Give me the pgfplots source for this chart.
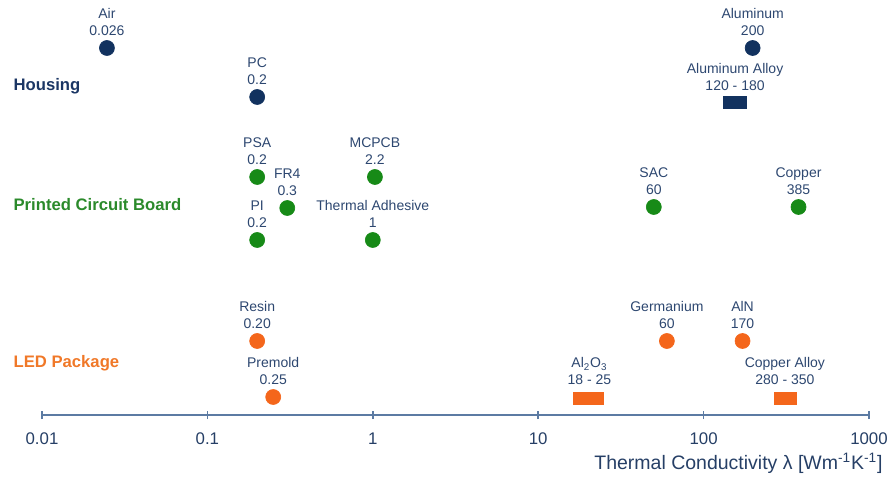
\documentclass[border=0pt]{standalone}
\usepackage{pgfplots}
\pgfplotsset{compat=1.18}
\usepackage{fontspec}
\setmainfont{Liberation Sans}
\definecolor{navyc}{HTML}{12325F}
\definecolor{greenc}{HTML}{178A17}
\definecolor{orangec}{HTML}{F4661B}
\definecolor{lblc}{HTML}{2D4770}
\definecolor{axc}{HTML}{5C7BA3}
\definecolor{tickc}{HTML}{263F66}
\definecolor{housc}{HTML}{1B3664}
\definecolor{pcbc}{HTML}{2B8A2B}
\definecolor{ledc}{HTML}{F07828}
\newcommand{\lab}[4]{\node[anchor=base, inner sep=0pt, text=lblc, font=\fontsize{8.4}{10.2}\selectfont] at (axis cs:#1,#2) {\begin{tabular}[b]{@{}c@{}}#3\\#4\end{tabular}};}
\begin{document}
\begin{tikzpicture}
\useasboundingbox (-25.2pt,-37.8pt) rectangle (511.2pt,249pt);
\begin{axis}[
  at={(0pt,0pt)}, anchor=south west,
  scale only axis, width=496.2pt, height=249pt,
  xmode=log, xmin=0.01, xmax=1000, ymin=0, ymax=415,
  axis y line=none, axis x line*=bottom,
  axis line style={draw=axc, line width=0.9pt, -},
  xtick={0.01,0.1,1,10,100,1000},
  xticklabels={0.01,0.1,1,10,100,1000},
  xminorticks=false,
  tick align=center, major tick length=5pt,
  every tick/.style={draw=axc, line width=0.9pt},
  xticklabel style={anchor=center, yshift=-12pt, font=\fontsize{10.1}{12}\selectfont, text=tickc},
  xlabel={Thermal Conductivity λ [Wm\textsuperscript{-1}K\textsuperscript{-1}]},
  xlabel style={at={(rel axis cs:1.0235,0)}, anchor=east, yshift=-28.8pt, font=\fontsize{11.7}{14}\selectfont, text=tickc},
  clip=false,
]
% Housing
\addplot[only marks, mark=*, mark size=4.5pt, mark options={fill=navyc, draw=navyc}] coordinates {(0.0247,367) (0.2,318) (198,367)};
\addplot[fill=navyc, draw=none] coordinates {(131,306) (182,306) (182,319) (131,319)};
% PCB
\addplot[only marks, mark=*, mark size=4.5pt, mark options={fill=greenc, draw=greenc}] coordinates {(0.2,238) (1.03,238) (0.304,207) (50,208) (375,208) (0.2,175) (1.0,175)};
% LED
\addplot[only marks, mark=*, mark size=4.5pt, mark options={fill=orangec, draw=orangec}] coordinates {(0.2,74) (0.25,18) (60,74) (172,74)};
\addplot[fill=orangec, draw=none] coordinates {(16.3,10) (25,10) (25,23) (16.3,23)};
\addplot[fill=orangec, draw=none] coordinates {(265,10) (365,10) (365,23) (265,23)};
% labels
\lab{0.0247}{379}{Air}{0.026}
\lab{198}{379}{Aluminum}{200}
\lab{0.2}{330}{PC}{0.2}
\lab{155}{324}{Aluminum Alloy}{120 - 180}
\lab{0.2}{250}{PSA}{0.2}
\lab{1.03}{250}{MCPCB}{2.2}
\lab{0.304}{219}{FR4}{0.3}
\lab{50}{220}{SAC}{60}
\lab{375}{220}{Copper}{385}
\lab{0.2}{187}{PI}{0.2}
\lab{1.0}{187}{Thermal Adhesive}{1}
\lab{0.2}{86}{Resin}{0.20}
\lab{0.25}{30}{Premold}{0.25}
\lab{60}{86}{Germanium}{60}
\lab{172}{86}{AlN}{170}
\lab{20.4}{30}{Al\textsubscript{2}O\textsubscript{3}}{18 - 25}
\lab{310}{30}{Copper Alloy}{280 - 350}
% group labels
\node[anchor=base west, inner sep=0pt, font=\bfseries\fontsize{10}{12}\selectfont, text=housc] at (rel axis cs:-0.0347,0.781) {Housing};
\node[anchor=base west, inner sep=0pt, font=\bfseries\fontsize{10}{12}\selectfont, text=pcbc] at (rel axis cs:-0.0347,0.4916) {Printed Circuit Board};
\node[anchor=base west, inner sep=0pt, font=\bfseries\fontsize{10}{12}\selectfont, text=ledc] at (rel axis cs:-0.0347,0.114) {LED Package};
\end{axis}
\end{tikzpicture}
\end{document}
